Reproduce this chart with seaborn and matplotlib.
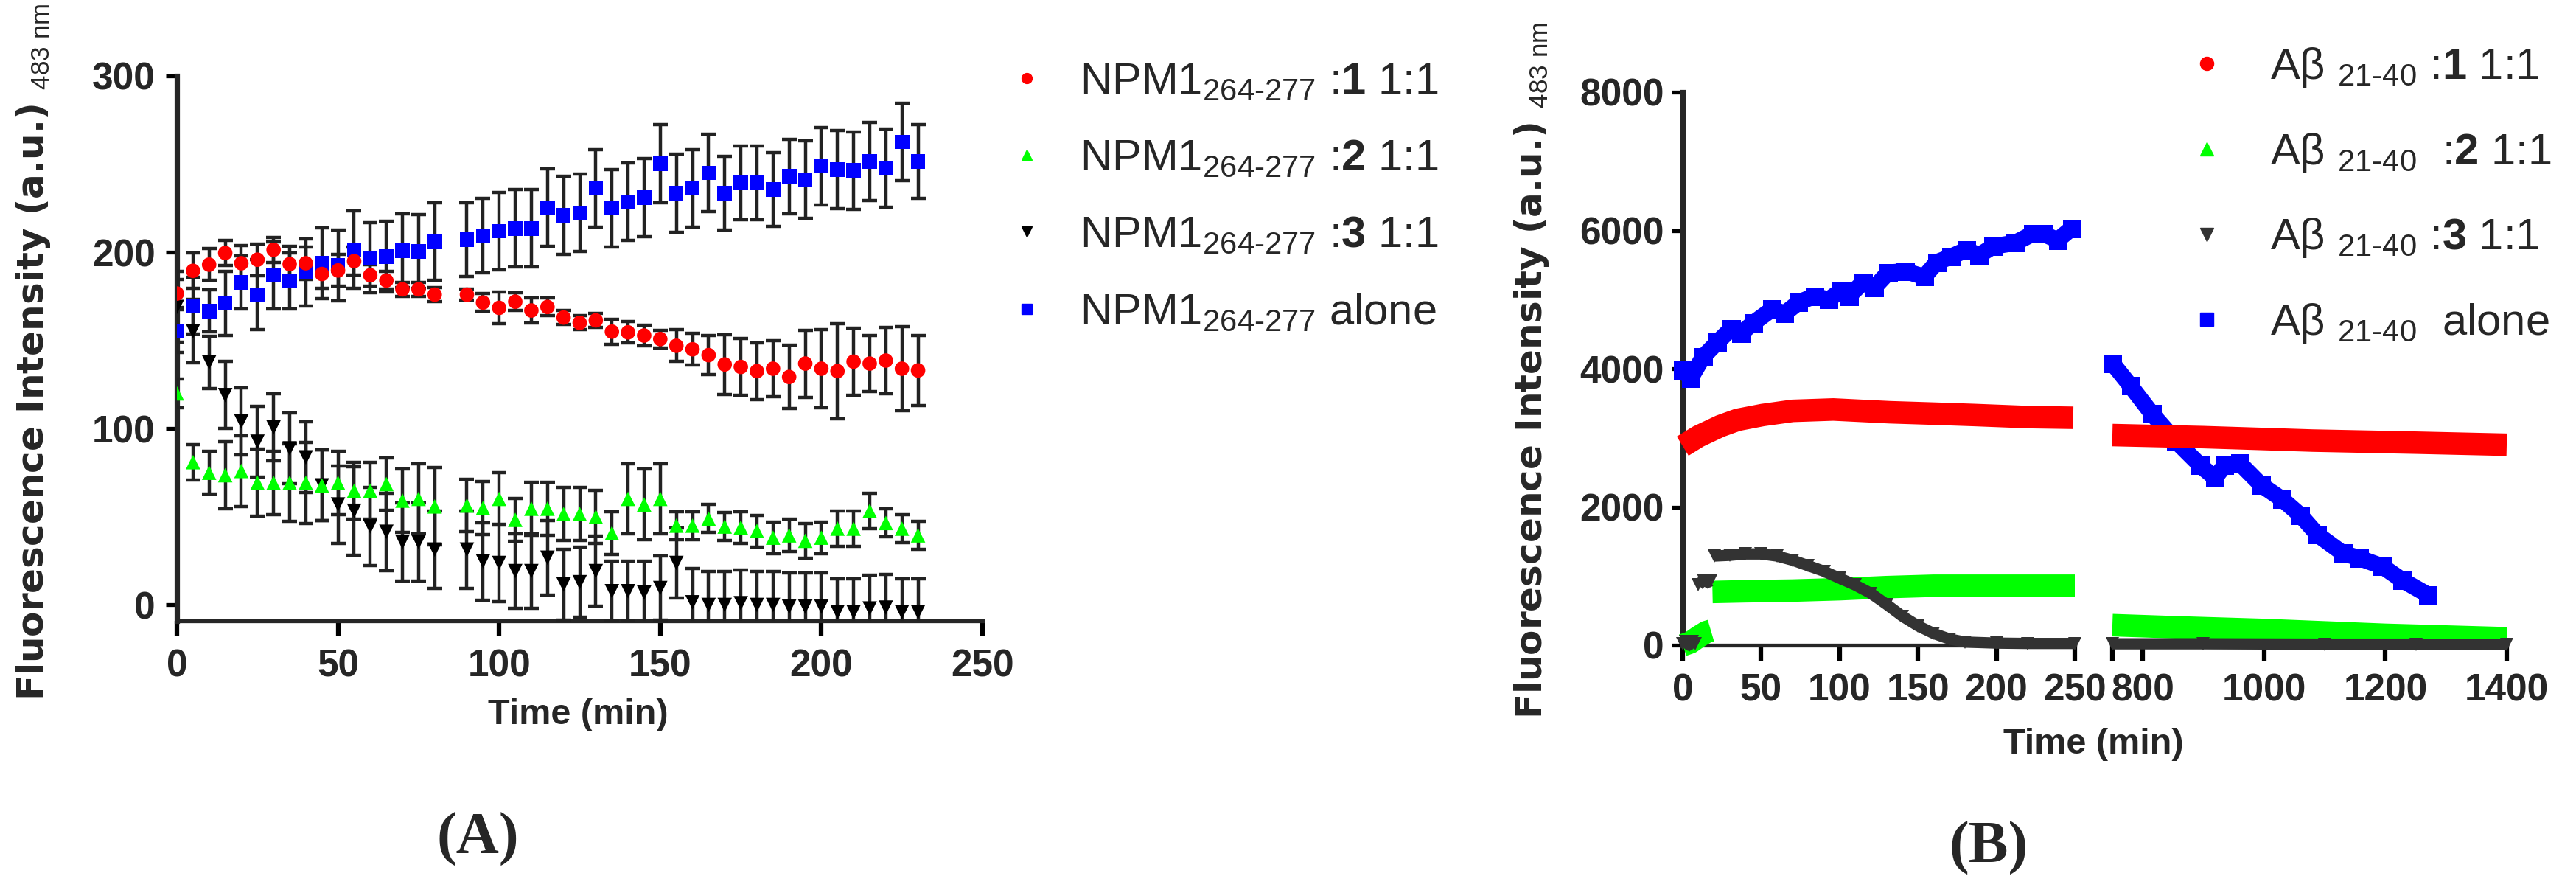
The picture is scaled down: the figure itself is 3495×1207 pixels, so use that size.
import pandas as pd
import seaborn as sns
import matplotlib.pyplot as plt
from matplotlib.lines import Line2D
from matplotlib import font_manager
from matplotlib.font_manager import FontProperties

# ---------------- panel A : NPM1 264-277 (mean +/- SD) ----------------
time_a = [0, 5, 10, 15, 20, 25, 30, 35, 40, 45, 50, 55, 60, 65, 70, 75, 80,
          90, 95, 100, 105, 110, 115, 120, 125, 130, 135, 140, 145, 150, 155, 160,
          165, 170, 175, 180, 185, 190, 195, 200, 205, 210, 215, 220, 225, 230]

red_a = [176.6, 189.5, 193, 199.6, 193.8, 195.8, 201.4, 193.3, 193.8, 187.7, 189.7, 195, 187, 184, 179, 179, 176,
         176, 171.5, 168.5, 172, 167, 169, 163, 160, 161.4, 155, 154.6, 152.8, 150.8, 147, 145,
         141.7, 136.4, 135, 132.6, 134, 129.3, 136.9, 134, 132.6, 138, 136.9, 138.6, 134, 133]
red_sd_a = [8, 10, 9, 7, 10, 9, 7, 10, 9, 8, 9, 8, 6, 5, 4, 4, 4,
            3, 5, 9, 5, 7, 5, 4, 4, 4, 7, 6, 6, 5, 9, 9,
            11, 17, 16, 16, 16, 18, 19, 22, 27, 19, 16, 19, 24, 20]

green_a = [120, 81, 75, 73.6, 76, 69.3, 69.3, 69.3, 69.3, 67.8, 69.3, 64.8, 64.8, 68.6, 59.2, 60.2, 55.9,
           56.4, 55, 60.2, 48.3, 54.6, 54.6, 51.6, 51.6, 50, 40.7, 60.2, 57, 60.2, 45, 45,
           49, 44.5, 44, 42, 38.2, 39.5, 36.4, 38.2, 43.3, 43.3, 53.4, 46.5, 43.3, 39.5]
green_sd_a = [8, 10, 12, 19, 20, 19, 18, 22, 23, 20, 18, 16, 16, 15, 18, 20, 22,
              15, 15, 15, 12, 15, 15, 15, 15, 15, 12, 20, 20, 20, 8, 8,
              8, 8, 9, 9, 9, 9, 10, 9, 10, 10, 10, 8, 8, 8]

black_a = [169, 155.3, 137.6, 119, 104, 92.6, 100.7, 88.8, 83.7, 67.8, 57, 53.4, 44.5, 41.5, 35.7, 35.7, 31.4,
           31.4, 24.8, 23.8, 19.2, 19.2, 26.8, 11.6, 12.9, 19.2, 7.8, 7.8, 7, 9.6, 23.8, 1.5,
           0, 0, 1, 0, 0, -1, -1, -1, -4, -4, -2, -1.5, -4, -4]
black_sd_a = [20, 18, 15, 19, 19, 20, 19, 20, 20, 20, 22, 25, 22, 22, 22, 22, 22,
              22, 22, 22, 21, 21, 21, 20, 20, 20, 17, 17, 18, 18, 20, 19,
              19, 19, 19, 19, 19, 19, 19, 19, 19, 19, 19, 19, 19, 19]

blue_a = [155.3, 169.7, 166.7, 171, 182.9, 176, 187, 183.7, 188.7, 193.8, 192.5, 201.4, 197, 197.6, 200.9, 200.6, 206,
          207.2, 209.5, 212, 213.5, 213.5, 225.4, 221, 222.4, 236.3, 225, 228.7, 231, 250.2, 233.5, 236.3,
          245, 233.5, 239.3, 239.3, 235.5, 243, 241.3, 248.9, 246.9, 246.4, 251.5, 247.7, 262.6, 251.5]
blue_sd_a = [12, 16, 12, 18, 15, 20, 19, 16, 19, 20, 20, 22, 20, 20, 21, 21, 22,
             21, 21, 22, 22, 22, 22, 22, 22, 22, 22, 22, 22, 22, 22, 22,
             22, 21, 21, 21, 21, 21, 22, 22, 22, 22, 22, 22, 22, 21]

labels_a = [r"NPM1$_{\text{264-277}}$ :$\mathbf{1}$ 1:1",
            r"NPM1$_{\text{264-277}}$ :$\mathbf{2}$ 1:1",
            r"NPM1$_{\text{264-277}}$ :$\mathbf{3}$ 1:1",
            r"NPM1$_{\text{264-277}}$ alone"]

# ---------------- panel B : Abeta 21-40 (broken time axis) ----------------
# first segment 0-250 min, pieces split where the trace jumps
red_t1 = [0, 10, 24, 35, 51, 70, 96, 132, 160, 186, 220, 249]
red_v1 = [2880, 3020, 3170, 3260, 3330, 3390, 3410, 3370, 3350, 3330, 3300, 3290]

green_t1a = [0, 5, 10, 15, 18]
green_v1a = [0, 40, 120, 190, 210]
green_t1b = [19, 40, 70, 100, 130, 160, 190, 220, 250]
green_v1b = [770, 780, 790, 810, 840, 860, 860, 860, 860]

black_t1a = [0, 2, 4, 6, 8]
black_v1a = [20, 50, 0, 50, 20]
black_t1b = [10, 13, 16, 18]
black_v1b = [870, 940, 910, 930]
black_t1c = [20, 30, 40, 50, 60, 70, 80, 90, 100, 110, 120, 130, 140, 150, 160, 170, 180, 200, 220, 250]
black_v1c = [1290, 1300, 1320, 1320, 1290, 1230, 1150, 1070, 970, 870, 750, 590, 420, 280, 170, 90, 45, 30, 25, 25]

blue_t1 = [0, 5, 13, 22, 31, 37, 45, 57, 65, 74, 84, 93, 101, 106, 115, 122, 131, 142, 154, 162,
           171, 181, 189, 198, 212, 223, 230, 239, 248]
blue_v1 = [3980, 3860, 4170, 4380, 4580, 4510, 4660, 4860, 4800, 4960, 5050, 5000, 5130, 5050, 5250,
           5170, 5390, 5410, 5330, 5540, 5620, 5720, 5640, 5770, 5820, 5950, 5950, 5860, 6030]

# second segment 750-1400 min
red_t2 = [750, 900, 1080, 1250, 1400]
red_v2 = [3040, 3010, 2960, 2930, 2900]
green_t2 = [750, 850, 1000, 1200, 1400]
green_v2 = [290, 260, 220, 150, 100]
black_t2 = [750, 900, 1100, 1250, 1400]
black_v2 = [20, 20, 15, 15, 10]
blue_t2 = [750, 780, 815, 855, 895, 919, 935, 960, 995, 1030, 1060, 1088, 1130, 1157, 1195, 1228, 1270]
blue_v2 = [4080, 3750, 3350, 2950, 2600, 2420, 2600, 2630, 2320, 2110, 1880, 1600, 1330, 1260, 1140, 940, 730]

labels_b = [r"Aβ $_{\text{21-40}}$ :$\mathbf{1}$ 1:1",
            r"Aβ $_{\text{21-40}}$  :$\mathbf{2}$ 1:1",
            r"Aβ $_{\text{21-40}}$ :$\mathbf{3}$ 1:1",
            r"Aβ $_{\text{21-40}}$  alone"]

# ---------------- style ----------------
sns.set_theme(style="ticks")
names = {f.name for f in font_manager.fontManager.ttflist}
tick_family = "Liberation Sans Narrow" if "Liberation Sans Narrow" in names else "Liberation Sans"
plt.rcParams["font.family"] = [tick_family, "DejaVu Sans"]
plt.rcParams["font.weight"] = "bold"
plt.rcParams["mathtext.fontset"] = "custom"
plt.rcParams["mathtext.rm"] = "Liberation Sans:weight=normal"
plt.rcParams["mathtext.bf"] = "Liberation Sans:weight=bold"
plt.rcParams["mathtext.it"] = "Liberation Sans:slant=italic:weight=normal"
plt.rcParams["axes.facecolor"] = "white"

RED, GREEN, BLUE = "#ff0000", "#00ff00", "#0000ff"
DARK = "#333333"

W, H, DPI = 3495, 1207, 100


def box(left, top, right, bottom):
    return [left / W, 1 - bottom / H, (right - left) / W, (bottom - top) / H]


def fpos(x, y):
    return x / W, 1 - y / H


fig = plt.figure(figsize=(W / DPI, H / DPI), dpi=DPI)
fig.patch.set_facecolor("white")

# ---------------- panel A ----------------
ax_a = fig.add_axes(box(240, 103, 1333, 842))

series_a = [("alone", blue_a, blue_sd_a, BLUE, "s"),
            ("3", black_a, black_sd_a, "black", "v"),
            ("2", green_a, green_sd_a, GREEN, "^"),
            ("1", red_a, red_sd_a, RED, "o")]
df_a = pd.concat([pd.DataFrame({"time": time_a, "value": v, "sd": sd, "series": n})
                  for n, v, sd, c, m in series_a], ignore_index=True)

for n, v, sd, c, m in series_a:
    sub = df_a[df_a["series"] == n]
    ax_a.errorbar(sub["time"], sub["value"], yerr=sub["sd"], fmt="none", ecolor="#222222",
                  elinewidth=3.2, capsize=7, capthick=3.2, zorder=3)

sns.scatterplot(data=df_a, x="time", y="value", hue="series", style="series",
                palette={n: c for n, v, sd, c, m in series_a},
                markers={n: m for n, v, sd, c, m in series_a},
                s=200, linewidth=0, legend=False, ax=ax_a, zorder=4)

ax_a.set_xlim(0, 250)
ax_a.set_ylim(-9, 300)
ax_a.set_xticks([0, 50, 100, 150, 200, 250])
ax_a.set_yticks([0, 100, 200, 300])
ax_a.set_xlabel("")
ax_a.set_ylabel("")

# ---------------- panel B ----------------
ax_b1 = fig.add_axes(box(2283, 125, 2815, 875))
ax_b2 = fig.add_axes(box(2866, 125, 3401, 875))

rows_b = []
for name, seg, piece, t, v in [
        ("alone", 1, "a", blue_t1, blue_v1), ("alone", 2, "a", blue_t2, blue_v2),
        ("2", 1, "a", green_t1a, green_v1a), ("2", 1, "b", green_t1b, green_v1b), ("2", 2, "a", green_t2, green_v2),
        ("3", 1, "a", black_t1a, black_v1a), ("3", 1, "b", black_t1b, black_v1b), ("3", 1, "c", black_t1c, black_v1c),
        ("3", 2, "a", black_t2, black_v2),
        ("1", 1, "a", red_t1, red_v1), ("1", 2, "a", red_t2, red_v2)]:
    rows_b.append(pd.DataFrame({"time": t, "value": v, "series": name, "segment": seg, "piece": piece}))
df_b = pd.concat(rows_b, ignore_index=True)

style_b = {
    "alone": dict(color=BLUE, lw=16, marker="s", ms=18, zorder=3),
    "2": dict(color=GREEN, lw=22, marker=None, ms=0, zorder=4),
    "3": dict(color=DARK, lw=11, marker="v", ms=13, zorder=5),
    "1": dict(color=RED, lw=22, marker=None, ms=0, zorder=6),
}

for ax, seg in [(ax_b1, 1), (ax_b2, 2)]:
    for name in ["alone", "2", "3", "1"]:
        sub = df_b[(df_b["segment"] == seg) & (df_b["series"] == name)]
        st = style_b[name]
        sns.lineplot(data=sub, x="time", y="value", units="piece", estimator=None, sort=False,
                     color=st["color"], lw=st["lw"], marker=st["marker"], ms=st["ms"],
                     mec=st["color"], mew=0, solid_capstyle="butt", solid_joinstyle="round",
                     zorder=st["zorder"], clip_on=False, legend=False, ax=ax)
    ax.set_ylim(0, 8000)
    ax.set_xlabel("")
    ax.set_ylabel("")

ax_b1.set_xlim(0, 250)
ax_b1.set_xticks([0, 50, 100, 150, 200, 250])
ax_b1.set_yticks([0, 2000, 4000, 6000, 8000])
ax_b2.set_xlim(750, 1400)
ax_b2.set_xticks([800, 1000, 1200, 1400])
ax_b2.set_xticks([750], minor=True)
ax_b2.set_yticks([])

# ---------------- axes cosmetics ----------------
for ax in [ax_a, ax_b1, ax_b2]:
    sns.despine(ax=ax)
    ax.spines["left"].set_linewidth(5.2)
    ax.spines["bottom"].set_linewidth(3.8)
    ax.tick_params(axis="x", which="both", length=15, width=4.5, pad=12, labelsize=37, color="black")
    ax.tick_params(axis="y", length=11, width=3.8, pad=10, labelsize=37, color="black")
    for lab in ax.get_xticklabels() + ax.get_yticklabels():
        lab.set_fontweight("bold")
ax_b1.tick_params(axis="y", pad=7)
ax_b2.tick_params(axis="y", left=False)
ax_b2.spines["left"].set_visible(False)

# ---------------- texts ----------------
ylab = r"Fluorescence Intensity (a.u.) $_{\mathrm{483\ nm}}$"
fig.text(*fpos(45, 477), ylab, rotation=90, ha="center", va="center",
         family="DejaVu Sans", weight="bold", size=36)
fig.text(*fpos(2078, 502), ylab, rotation=90, ha="center", va="center",
         family="DejaVu Sans", weight="bold", size=36)
fig.text(*fpos(784, 969), "Time (min)", ha="center", va="center",
         family="Liberation Sans", weight="bold", size=35)
fig.text(*fpos(2840, 1009), "Time (min)", ha="center", va="center",
         family="Liberation Sans", weight="bold", size=35)
fig.text(*fpos(648, 1138), "(A)", ha="center", va="center",
         family="Liberation Serif", weight="bold", size=58)
fig.text(*fpos(2698, 1150), "(B)", ha="center", va="center",
         family="Liberation Serif", weight="bold", size=58)

# ---------------- legends ----------------
leg_prop = FontProperties(family="Liberation Sans", weight="normal", size=43)


def handles(colors):
    return [Line2D([], [], ls="", marker=m, color=c, mec=c, ms=ms)
            for c, m, ms in colors]


fig.legend(handles([(RED, "o", 10), (GREEN, "^", 10), ("black", "v", 10), (BLUE, "s", 10)]),
           labels_a, loc="upper left", bbox_to_anchor=fpos(1369, 84), frameon=False,
           prop=leg_prop, handlelength=0.8, handletextpad=0.8, labelspacing=0.82,
           borderpad=0, borderaxespad=0)
fig.legend(handles([(RED, "o", 13), (GREEN, "^", 13), (DARK, "v", 13), (BLUE, "s", 13)]),
           labels_b, loc="upper left", bbox_to_anchor=fpos(2970, 62), frameon=False,
           prop=leg_prop, handlelength=0.8, handletextpad=1.05, labelspacing=0.95,
           borderpad=0, borderaxespad=0)

fig.savefig("out.png", dpi=DPI, facecolor="white")
